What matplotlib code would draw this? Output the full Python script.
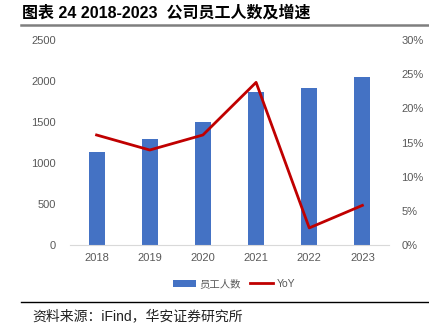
import matplotlib
matplotlib.use("Agg")
import matplotlib.pyplot as plt
from matplotlib.ticker import FuncFormatter

plt.rcParams['font.family'] = ['Liberation Sans', 'Noto Sans CJK SC', 'DejaVu Sans']

years = ['2018', '2019', '2020', '2021', '2022', '2023']
employees = [1134, 1293, 1505, 1870, 1920, 2045]
yoy = [16.1, 13.9, 16.1, 23.8, 2.5, 5.8]
left_ticks = [0, 500, 1000, 1500, 2000, 2500]
right_ticks = [0, 5, 10, 15, 20, 25, 30]

W, H = 429, 331
fig = plt.figure(figsize=(W / 100, H / 100), dpi=100)

ax = fig.add_axes([70 / W, 1 - 245 / H, (389 - 70) / W, (245 - 40) / H])
x = list(range(len(years)))
bars = ax.bar(x, employees, width=0.3, color='#4472C4', label='员工人数', zorder=2)
ax.set_xlim(-0.5, 5.5)
ax.set_ylim(0, 2500)
ax.set_yticks(left_ticks)
ax.set_xticks(x)
ax.set_xticklabels(years)
for s in ['top', 'right', 'left']:
    ax.spines[s].set_visible(False)
ax.spines['bottom'].set_color('#D9D9D9')
ax.tick_params(axis='both', length=0, colors='#595959', labelsize=8)
ax.tick_params(axis='y', pad=10)
ax.tick_params(axis='x', pad=6)

ax2 = ax.twinx()
line, = ax2.plot(x, yoy, color='#C00000', linewidth=2, label='YoY', zorder=3)
ax2.set_ylim(0, 30)
ax2.set_yticks(right_ticks)
ax2.yaxis.set_major_formatter(FuncFormatter(lambda v, p: f'{int(v)}%'))
for s in ['top', 'right', 'left', 'bottom']:
    ax2.spines[s].set_visible(False)
ax2.tick_params(axis='y', length=0, colors='#595959', labelsize=8, pad=9)

fig.legend([bars, line], ['员工人数', 'YoY'], loc='center', bbox_to_anchor=(234 / W, 1 - 284 / H),
           ncol=2, frameon=False, fontsize=7.5, labelcolor='#595959',
           handlelength=2.2, handletextpad=0.4, columnspacing=0.8)

fig.text(22 / W, 1 - 13 / H, '图表 24 2018-2023  公司员工人数及增速', fontsize=11.5,
         fontweight='bold', va='center', ha='left', color='black')
fig.add_artist(plt.Line2D([21 / W, 1.0], [1 - 25 / H, 1 - 25 / H], color='#7F7F7F', linewidth=1.8))
fig.add_artist(plt.Line2D([21 / W, 1.0], [1 - 302 / H, 1 - 302 / H], color='black', linewidth=1.0))
fig.text(32 / W, 1 - 316 / H, '资料来源：iFind，华安证券研究所', fontsize=10, va='center', ha='left', color='#222222')

fig.savefig('out.png', dpi=100)
